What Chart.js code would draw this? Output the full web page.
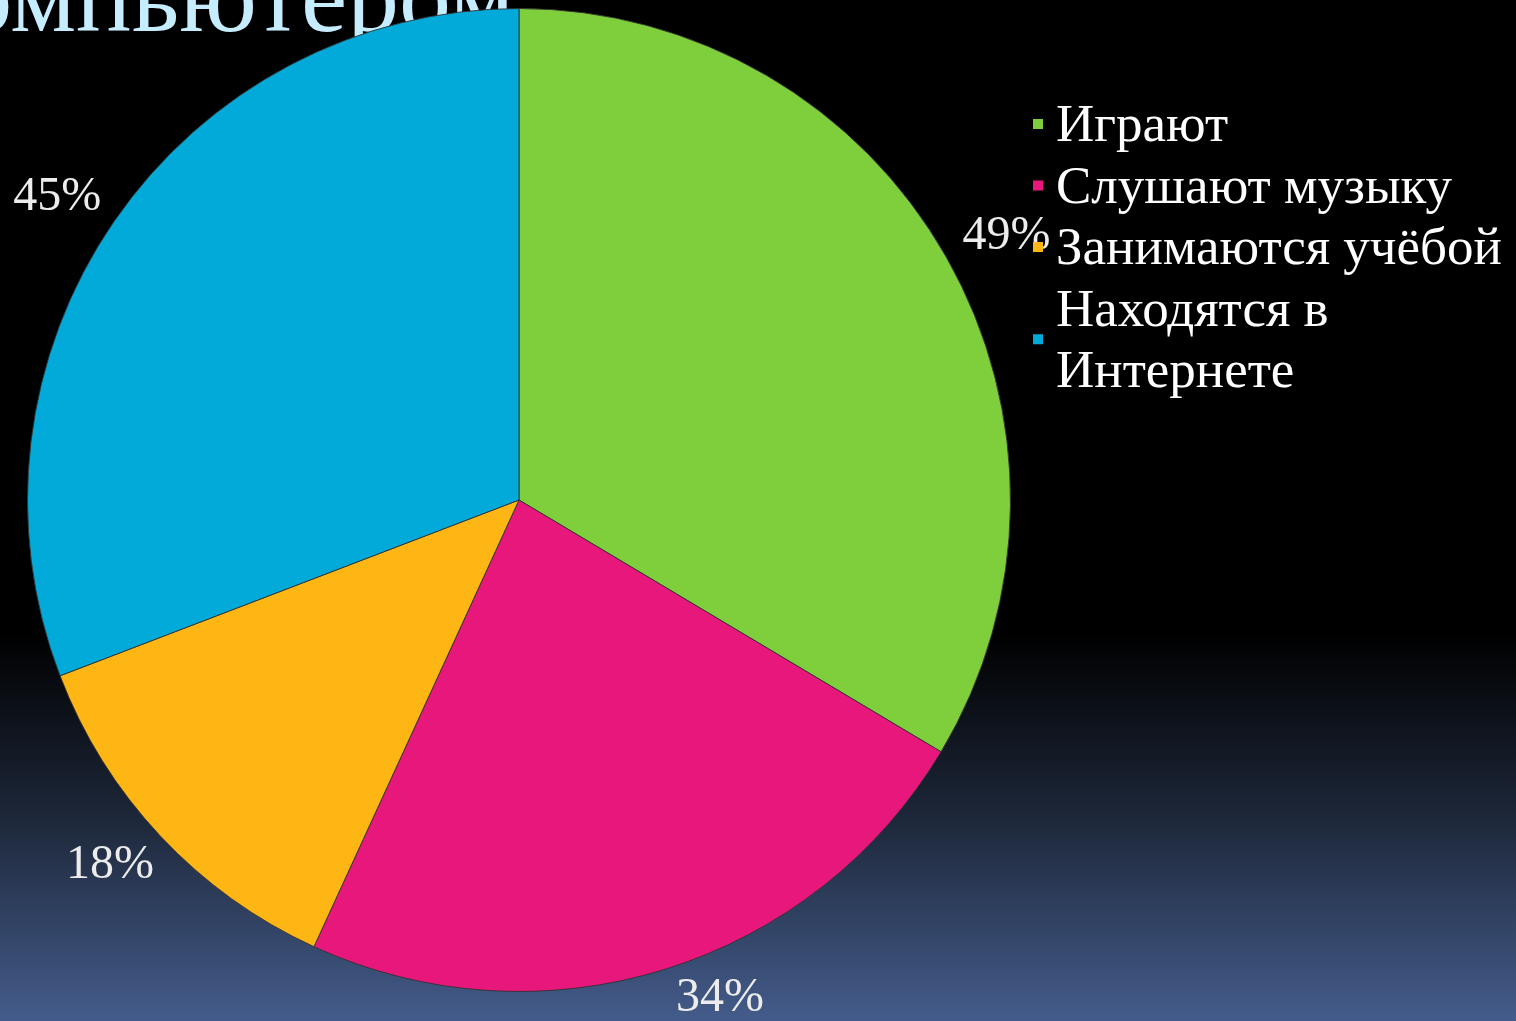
<!DOCTYPE html>
<html>
<head>
<meta charset="utf-8">
<script src="https://cdn.jsdelivr.net/npm/chart.js@4.4.1/dist/chart.umd.min.js"></script>
<style>
  html, body { margin: 0; padding: 0; background: #000; }
  #wrap { width: 1516px; height: 1021px; position: relative; }
  canvas { display: block; }
</style>
</head>
<body>
<div id="wrap"><canvas id="c" width="1516" height="1021"></canvas></div>
<script>
// ---- data ----
const categories = ["Играют", "Слушают музыку", "Занимаются учёбой", "Находятся в Интернете"];
const legendLines = [["Играют"], ["Слушают музыку"], ["Занимаются учёбой"], ["Находятся в", "Интернете"]];
const values = [49, 34, 18, 45];
const valueLabels = ["49%", "34%", "18%", "45%"];
const sliceColors = ["#7fcf3d", "#e8177b", "#fdb614", "#02aad9"];
const titleText = "компьютером";

const bgPlugin = {
  id: 'bg',
  beforeDraw(chart) {
    const ctx = chart.ctx, h = chart.height, w = chart.width;
    const g = ctx.createLinearGradient(0, 0, 0, h);
    g.addColorStop(0, '#000000');
    g.addColorStop(0.62, '#000000');
    g.addColorStop(0.80, '#1d2739');
    g.addColorStop(1, '#445c8b');
    ctx.save();
    ctx.fillStyle = g;
    ctx.fillRect(0, 0, w, h);
    ctx.restore();
  },
  beforeDatasetsDraw(chart) {
    const ctx = chart.ctx;
    ctx.save();
    ctx.font = '104px "Liberation Serif", "Times New Roman", serif';
    ctx.fillStyle = '#c6ecff';
    ctx.textBaseline = 'alphabetic';
    ctx.textAlign = 'left';
    ctx.fillText(titleText, -85, 31);
    ctx.restore();
  },
  afterDatasetsDraw(chart) {
    const ctx = chart.ctx;
    const meta = chart.getDatasetMeta(0);
    ctx.save();
    // data labels
    ctx.font = '48px "Liberation Serif", "Times New Roman", serif';
    ctx.fillStyle = '#ececec';
    ctx.textAlign = 'center';
    ctx.textBaseline = 'middle';
    meta.data.forEach((arc, i) => {
      const p = arc.getProps(['x', 'y', 'startAngle', 'endAngle', 'outerRadius'], true);
      const mid = (p.startAngle + p.endAngle) / 2;
      const dx = Math.cos(mid), dy = Math.sin(mid);
      const tw = ctx.measureText(valueLabels[i]).width, th = 36;
      let cx = p.x + dx * (p.outerRadius + 25) + dx * tw / 2;
      let cy = p.y + dy * (p.outerRadius + 25) + dy * th / 2;
      const maxY = chart.height - th / 2 - 5;
      if (cy > maxY) { cx += (cy - maxY) * 2.8; cy = maxY; }
      ctx.fillText(valueLabels[i], cx, cy);
    });
    // legend
    const area = chart.chartArea;
    const sqX = area.right + 22;
    const txtX = sqX + 23;
    let base = area.top + 133;
    const lineH = 61.5;
    ctx.font = '53px "Liberation Serif", "Times New Roman", serif';
    ctx.textAlign = 'left';
    ctx.textBaseline = 'alphabetic';
    legendLines.forEach((lines, i) => {
      const first = base;
      lines.forEach((ln, k) => {
        ctx.fillStyle = '#ffffff';
        ctx.fillText(ln, txtX, base + k * lineH);
      });
      const last = base + (lines.length - 1) * lineH;
      const sqC = (first + last) / 2 - 17;
      ctx.fillStyle = sliceColors[i];
      ctx.fillRect(sqX, sqC - 5, 10, 10);
      base += lines.length * lineH;
    });
    ctx.restore();
  }
};

new Chart(document.getElementById('c'), {
  type: 'pie',
  data: {
    labels: categories,
    datasets: [{
      data: values,
      backgroundColor: sliceColors,
      borderColor: 'rgba(50,50,50,0.9)',
      borderWidth: 1,
      hoverOffset: 0,
      offset: 0
    }]
  },
  options: {
    responsive: false,
    animation: false,
    events: [],
    layout: { padding: { left: 27, right: 505, top: 8, bottom: 29 } },
    plugins: {
      legend: { display: false },
      tooltip: { enabled: false },
      title: { display: false }
    }
  },
  plugins: [bgPlugin]
});
</script>
</body>
</html>
